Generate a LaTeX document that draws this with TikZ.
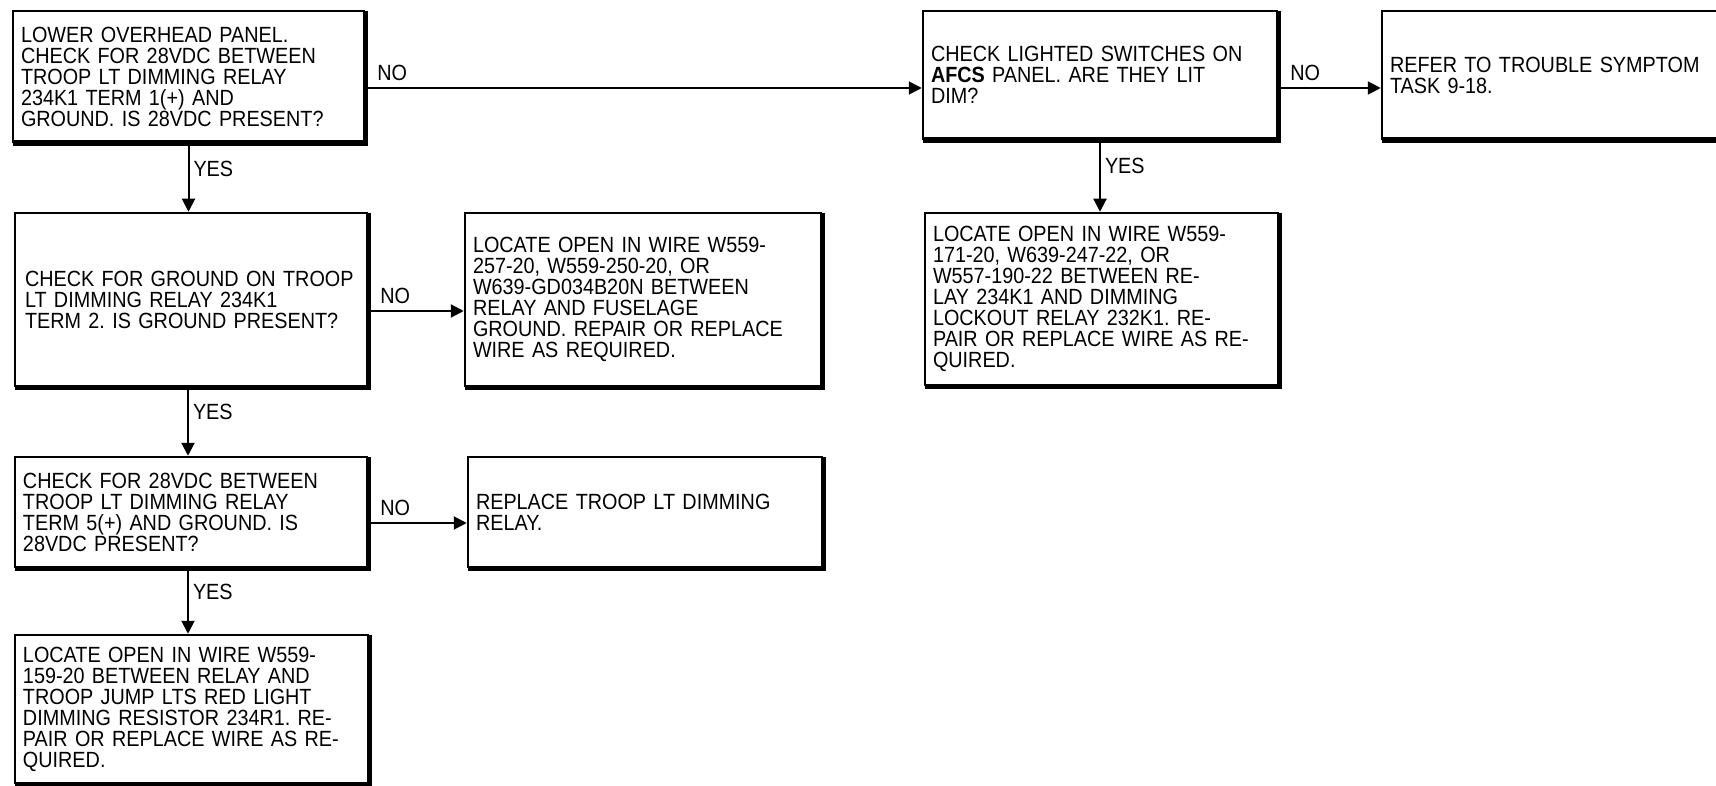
\documentclass[tikz,border=0pt]{standalone}
\usepackage{fontspec}
\setmainfont{Liberation Sans}
\newfontfamily\condfont[FakeStretch=0.9]{Liberation Sans}
\usetikzlibrary{arrows.meta}
\begin{document}
\begin{tikzpicture}[x=1pt,y=-1pt,
  fbox/.style={draw, line width=2.5pt, rectangle, inner xsep=8pt, inner ysep=0pt,
    align=left, anchor=center, font=\condfont\frenchspacing\fontsize{22}{21}\selectfont},
  edgeline/.style={line width=5.5pt},
  arr/.style={line width=2pt, -{Triangle[length=13pt,width=13pt]}},
  lbl/.style={inner sep=0pt, font=\condfont\fontsize{22}{21}\selectfont}]
\useasboundingbox (0,0) rectangle (1716,786);
\clip (0,0) rectangle (1716,786);
\fill[white] (0,0) rectangle (1716,786);
\newcommand\rbedge[1]{\draw[edgeline] ([yshift=-1pt]#1.north east) -- (#1.south east) -- ([xshift=1pt]#1.south west);}

\node[fbox, minimum width=351pt, minimum height=131pt, text width=335pt] (A) at (188.5,76.5)
 {LOWER OVERHEAD PANEL.\\CHECK FOR 28VDC BETWEEN\\TROOP LT DIMMING RELAY\\234K1 TERM 1(+) AND\\GROUND. IS 28VDC PRESENT?};
\node[fbox, inner xsep=10pt, minimum width=352pt, minimum height=173pt, text width=332pt] (B) at (191,299.5)
 {CHECK FOR GROUND ON TROOP\\LT DIMMING RELAY 234K1\\TERM 2. IS GROUND PRESENT?};
\node[fbox, minimum width=352pt, minimum height=110pt, text width=336pt] (C) at (191,512)
 {CHECK FOR 28VDC BETWEEN\\TROOP LT DIMMING RELAY\\TERM 5(+) AND GROUND. IS\\28VDC PRESENT?};
\node[fbox, minimum width=353pt, minimum height=148pt, text width=337pt] (D) at (191.5,709)
 {LOCATE OPEN IN WIRE W559-\\159-20 BETWEEN RELAY AND\\TROOP JUMP LTS RED LIGHT\\DIMMING RESISTOR 234R1. RE-\\PAIR OR REPLACE WIRE AS RE-\\QUIRED.};
\node[fbox, minimum width=356pt, minimum height=173pt, text width=340pt] (E) at (643,299.5)
 {LOCATE OPEN IN WIRE W559-\\257-20, W559-250-20, OR\\W639-GD034B20N BETWEEN\\RELAY AND FUSELAGE\\GROUND. REPAIR OR REPLACE\\WIRE AS REQUIRED.};
\node[fbox, minimum width=354pt, minimum height=110pt, text width=338pt] (F) at (645,512)
 {REPLACE TROOP LT DIMMING\\RELAY.};
\node[fbox, minimum width=354pt, minimum height=128pt, text width=338pt] (G) at (1100,75)
 {CHECK LIGHTED SWITCHES ON\\\textbf{AFCS} PANEL. ARE THEY LIT\\DIM?};
\node[fbox, minimum width=353pt, minimum height=172pt, text width=337pt] (H) at (1101.5,299)
 {LOCATE OPEN IN WIRE W559-\\171-20, W639-247-22, OR\\W557-190-22 BETWEEN RE-\\LAY 234K1 AND DIMMING\\LOCKOUT RELAY 232K1. RE-\\PAIR OR REPLACE WIRE AS RE-\\QUIRED.};
\node[fbox, minimum width=378pt, minimum height=128pt, text width=362pt] (I) at (1571,75)
 {REFER TO TROUBLE SYMPTOM\\TASK 9-18.};

\rbedge{A}\rbedge{B}\rbedge{C}\rbedge{D}\rbedge{E}\rbedge{F}\rbedge{G}\rbedge{H}\rbedge{I}

% horizontal NO connectors
\draw[arr] ([yshift=-11.5pt]A.east) -- ([yshift=-11.5pt]A.east -| G.west)
  node[lbl, anchor=south west, pos=0, xshift=11pt, yshift=6pt] {NO};
\draw[arr] ([yshift=-13pt]G.east) -- ([yshift=-13pt]G.east -| I.west)
  node[lbl, anchor=south west, pos=0, xshift=11pt, yshift=6pt] {NO};
\draw[arr] ([yshift=-11.5pt]B.east) -- ([yshift=-11.5pt]B.east -| E.west)
  node[lbl, anchor=south west, pos=0, xshift=11pt, yshift=6pt] {NO};
\draw[arr] ([yshift=-11pt]C.east) -- ([yshift=-11pt]C.east -| F.west)
  node[lbl, anchor=south west, pos=0, xshift=11pt, yshift=6pt] {NO};

% vertical YES connectors
\draw[arr] (A.south) -- (A.south |- B.north)
  node[lbl, anchor=west, pos=0.38, xshift=4pt] {YES};
\draw[arr] ([xshift=-3pt]B.south) -- ([xshift=-3pt]B.south |- C.north)
  node[lbl, anchor=west, pos=0.36, xshift=4pt] {YES};
\draw[arr] ([xshift=-3pt]C.south) -- ([xshift=-3pt]C.south |- D.north)
  node[lbl, anchor=west, pos=0.36, xshift=4pt] {YES};
\draw[arr] (G.south) -- (G.south |- H.north)
  node[lbl, anchor=west, pos=0.36, xshift=4pt] {YES};
\end{tikzpicture}
\end{document}
